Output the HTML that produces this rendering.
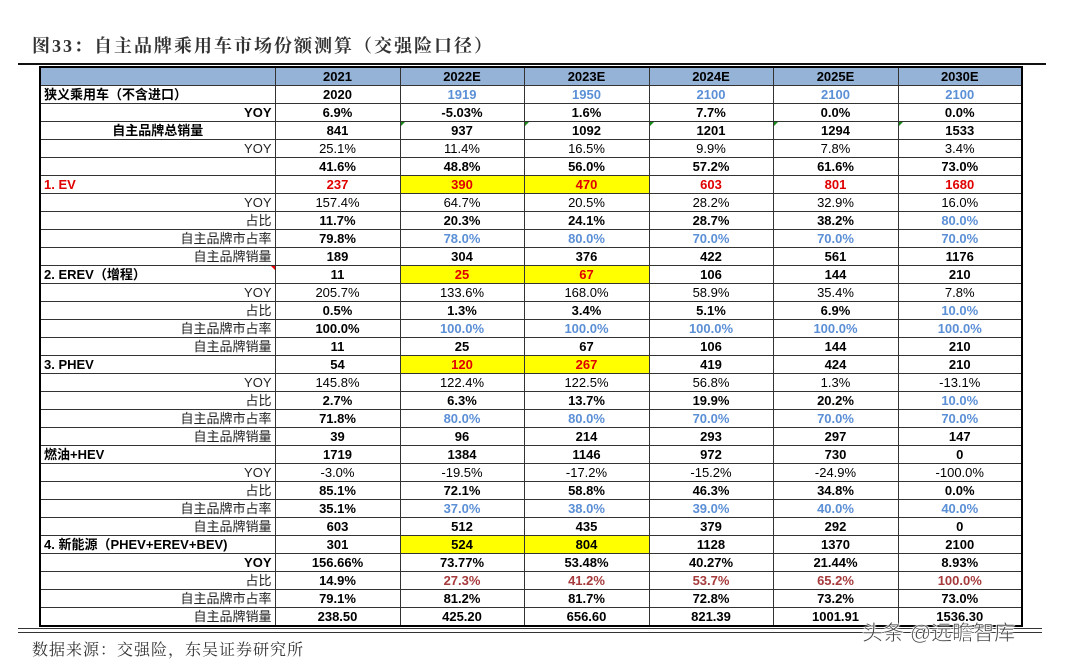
<!DOCTYPE html>
<html><head><meta charset="utf-8">
<style>
html,body{margin:0;padding:0;background:#fff;}
body{width:1080px;height:661px;position:relative;overflow:hidden;font-family:"Liberation Sans","Noto Sans CJK SC",sans-serif;}
#title{position:absolute;left:32px;top:32px;font-family:"Liberation Serif","Noto Serif CJK SC",serif;font-size:18px;color:#333;letter-spacing:2px;font-weight:bold;}
#topline{position:absolute;left:18px;top:63px;width:1028px;height:2px;background:#111;}
#botline{position:absolute;left:18px;top:628px;width:1024px;height:3px;border-top:1px solid #333;border-bottom:1px solid #333;}
#tbl{position:absolute;left:39px;top:66px;border-collapse:collapse;table-layout:fixed;border:2px solid #000;}
#tbl td{border:1px solid #333;height:17px;padding:0 3px;font-size:13px;line-height:16px;text-align:center;white-space:nowrap;overflow:hidden;position:relative;color:#000;}
#tbl tr.hdr td{background:#95b3d7;font-weight:bold;}
#src{position:absolute;left:32px;top:637px;font-family:"Liberation Serif","Noto Serif CJK SC",serif;font-size:16px;color:#333;letter-spacing:1px;}
#wm{position:absolute;left:862px;top:617px;font-size:21px;color:#444;-webkit-text-stroke:0.5px #fff;text-shadow:0 0 2px #fff,0 0 2px #fff;}
.tri{position:absolute;left:0;top:0;width:0;height:0;border-top:4px solid #1a8a1a;border-right:4px solid transparent;}
.trir{position:absolute;right:0;top:0;width:0;height:0;border-top:4px solid #e00;border-left:4px solid transparent;}
</style></head><body>
<div id="title">图33：自主品牌乘用车市场份额测算（交强险口径）</div>
<div id="topline"></div>
<table id="tbl">
<colgroup><col style="width:235px"><col style="width:125px"><col style="width:124px"><col style="width:125px"><col style="width:124px"><col style="width:125px"><col style="width:124px"></colgroup>
<tbody id="tb"></tbody></table>
<div id="botline"></div>
<div id="src">数据来源：交强险，东吴证券研究所</div>
<div id="wm">头条 @远瞻智库</div>
<script>
const years=["2021","2022E","2023E","2024E","2025E","2030E"];
const rows=[
["狭义乘用车（不含进口）","left",1,"k",["2020","1919","1950","2100","2100","2100"],1,"kbbbbb",[]],
["YOY","right",1,"k",["6.9%","-5.03%","1.6%","7.7%","0.0%","0.0%"],1,"kkkkkk",[]],
["自主品牌总销量","center",1,"k",["841","937","1092","1201","1294","1533"],1,"kkkkkk",[],"g"],
["YOY","right",0,"k",["25.1%","11.4%","16.5%","9.9%","7.8%","3.4%"],0,"kkkkkk",[]],
["","right",0,"k",["41.6%","48.8%","56.0%","57.2%","61.6%","73.0%"],1,"kkkkkk",[]],
["1. EV","left",1,"r",["237","390","470","603","801","1680"],1,"rrrrrr",[1,2]],
["YOY","right",0,"k",["157.4%","64.7%","20.5%","28.2%","32.9%","16.0%"],0,"kkkkkk",[]],
["占比","right",0,"k",["11.7%","20.3%","24.1%","28.7%","38.2%","80.0%"],1,"kkkkkb",[]],
["自主品牌市占率","right",0,"k",["79.8%","78.0%","80.0%","70.0%","70.0%","70.0%"],1,"kbbbbb",[]],
["自主品牌销量","right",0,"k",["189","304","376","422","561","1176"],1,"kkkkkk",[]],
["2. EREV（增程）","left",1,"k",["11","25","67","106","144","210"],1,"krrkkk",[1,2],"r"],
["YOY","right",0,"k",["205.7%","133.6%","168.0%","58.9%","35.4%","7.8%"],0,"kkkkkk",[]],
["占比","right",0,"k",["0.5%","1.3%","3.4%","5.1%","6.9%","10.0%"],1,"kkkkkb",[]],
["自主品牌市占率","right",0,"k",["100.0%","100.0%","100.0%","100.0%","100.0%","100.0%"],1,"kbbbbb",[]],
["自主品牌销量","right",0,"k",["11","25","67","106","144","210"],1,"kkkkkk",[]],
["3. PHEV","left",1,"k",["54","120","267","419","424","210"],1,"krrkkk",[1,2]],
["YOY","right",0,"k",["145.8%","122.4%","122.5%","56.8%","1.3%","-13.1%"],0,"kkkkkk",[]],
["占比","right",0,"k",["2.7%","6.3%","13.7%","19.9%","20.2%","10.0%"],1,"kkkkkb",[]],
["自主品牌市占率","right",0,"k",["71.8%","80.0%","80.0%","70.0%","70.0%","70.0%"],1,"kbbbbb",[]],
["自主品牌销量","right",0,"k",["39","96","214","293","297","147"],1,"kkkkkk",[]],
["燃油+HEV","left",1,"k",["1719","1384","1146","972","730","0"],1,"kkkkkk",[]],
["YOY","right",0,"k",["-3.0%","-19.5%","-17.2%","-15.2%","-24.9%","-100.0%"],0,"kkkkkk",[]],
["占比","right",0,"k",["85.1%","72.1%","58.8%","46.3%","34.8%","0.0%"],1,"kkkkkk",[]],
["自主品牌市占率","right",0,"k",["35.1%","37.0%","38.0%","39.0%","40.0%","40.0%"],1,"kbbbbb",[]],
["自主品牌销量","right",0,"k",["603","512","435","379","292","0"],1,"kkkkkk",[]],
["4. 新能源（PHEV+EREV+BEV)","left",1,"k",["301","524","804","1128","1370","2100"],1,"kkkkkk",[1,2]],
["YOY","right",1,"k",["156.66%","73.77%","53.48%","40.27%","21.44%","8.93%"],1,"kkkkkk",[]],
["占比","right",0,"k",["14.9%","27.3%","41.2%","53.7%","65.2%","100.0%"],1,"kdddddd",[]],
["自主品牌市占率","right",0,"k",["79.1%","81.2%","81.7%","72.8%","73.2%","73.0%"],1,"kkkkkk",[]],
["自主品牌销量","right",0,"k",["238.50","425.20","656.60","821.39","1001.91","1536.30"],1,"kkkkkk",[]]
];
const COL={k:"#000",b:"#5b8fd6",r:"#e00000",d:"#a63a3c"};
const tb=document.getElementById('tb');
const hr=document.createElement('tr');hr.className='hdr';


const h0=document.createElement('td');


hr.appendChild(h0);
years.forEach(y=>{const td=document.createElement('td');td.textContent=y;


hr.appendChild(td);});
tb.appendChild(hr);
rows.forEach((r,i)=>{
 const tr=document.createElement('tr');
 
 
 const l=document.createElement('td');l.textContent=r[0];
 l.style.textAlign=r[1];l.style.fontWeight=r[2]?'bold':'normal';l.style.color=COL[r[3]];
 if(r[1]==='right'&&!r[2])l.style.color='#222';
 
 
 if(r[8]==='r'){const t=document.createElement('span');t.className='trir';l.appendChild(t);}
 tr.appendChild(l);
 r[4].forEach((v,j)=>{const td=document.createElement('td');td.textContent=v;
  td.style.fontWeight=r[5]?'bold':'normal';td.style.color=COL[r[6][j]];
  if(r[7].includes(j))td.style.background='#ffff00';
  if(r[8]==='g'&&j>0){const t=document.createElement('span');t.className='tri';td.appendChild(t);}
  
  
  tr.appendChild(td);});
 tb.appendChild(tr);
});
</script>
</body></html>
